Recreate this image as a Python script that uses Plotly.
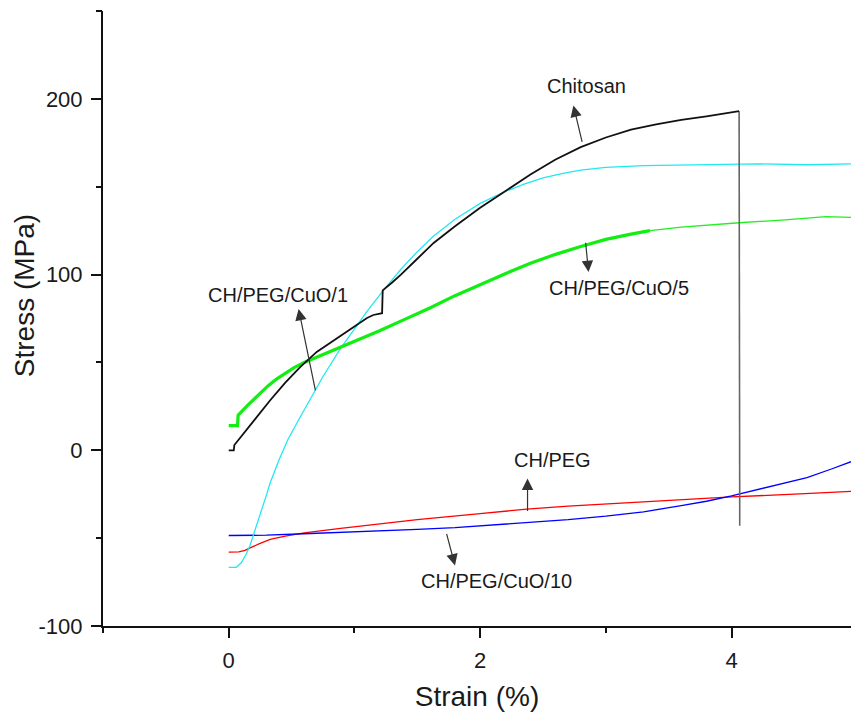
import plotly.graph_objects as go

# Tensile stress-strain curves of chitosan films
ch_strain = [0, 0.04, 0.045, 0.1, 0.2, 0.33, 0.45, 0.57, 0.7, 0.85, 1.0, 1.1, 1.15, 1.22, 1.225,
             1.3, 1.37, 1.5, 1.63, 1.8, 2.0, 2.19, 2.4, 2.6, 2.8, 3.0, 3.2, 3.4, 3.6, 3.8, 4.0,
             4.06, 4.065]
ch_stress = [0, 0, 3, 8, 17, 28.5, 38.5, 47.5, 56, 63.5, 70.5, 75.3, 77, 78, 91,
             95.5, 100, 109, 118, 127.5, 138, 147, 157, 165.5, 172.5, 178, 182.5, 185.5, 188,
             190, 192, 193, -43]

cuo1_strain = [0, 0.06, 0.1, 0.14, 0.17, 0.2, 0.25, 0.3, 0.33, 0.4, 0.47, 0.55, 0.65, 0.75,
               0.89, 1.0, 1.1, 1.23, 1.37, 1.5, 1.63, 1.8, 2.0, 2.19, 2.35, 2.5, 2.65, 2.8,
               3.0, 3.3, 3.7, 4.2, 4.6, 4.95]
cuo1_stress = [-66.6, -66.6, -64, -59, -54, -47, -36.5, -25.5, -18.5, -5.5, 6, 16.5, 29, 42,
               58, 69, 79, 91, 103, 113, 122, 131.5, 140.5, 147, 151.5, 155, 157.5, 159.5,
               161, 162, 162.5, 163, 162.5, 163]

cuo5_strain = [0, 0.07, 0.075, 0.1, 0.15, 0.2, 0.25, 0.31, 0.38, 0.45, 0.52, 0.6, 0.7, 0.8,
               1.0, 1.2, 1.4, 1.6, 1.8, 2.0, 2.2, 2.4, 2.6, 2.8, 3.0, 3.2, 3.35]
cuo5_stress = [14, 14, 20, 22, 25.5, 29, 32.5, 36.5, 40.5, 44, 47, 50, 53, 56,
               62, 68, 74.5, 81, 88, 94.5, 100.5, 106.5, 111.5, 116, 120, 123, 125]
cuo5_tail_strain = [3.35, 3.6, 4.06, 4.4, 4.75, 4.95]
cuo5_tail_stress = [125, 127, 129.5, 131, 133, 132.5]

peg_strain = [0, 0.08, 0.13, 0.17, 0.25, 0.33, 0.45, 0.6, 0.89, 1.2, 1.5, 2.0, 2.37, 2.7,
              3.2, 3.6, 4.0, 4.5, 4.95]
peg_stress = [-58, -57.8, -57, -55.5, -53, -50.7, -48.8, -47, -44.4, -41.8, -39.5, -36,
              -33.5, -31.8, -29.6, -28, -26.5, -25, -23.4]

cuo10_strain = [0, 0.3, 0.6, 0.9, 1.2, 1.5, 1.8, 2.1, 2.4, 2.7, 3.0, 3.3, 3.6, 3.8, 4.0,
                4.2, 4.4, 4.6, 4.8, 4.95]
cuo10_stress = [-48.5, -48.3, -47.5, -46.8, -46, -45, -44, -42.5, -41, -39.5, -37.5, -35,
                -31.5, -29, -26, -22.5, -19, -15.5, -10.5, -6.5]

x_range = [-1, 4.95]
y_range = [-100, 250]
x_ticks = [0, 2, 4]
y_ticks = [-100, 0, 100, 200]
y_tick_text = ["-100", "0", "100", "200"]
x_minor_step = 1
y_minor_step = 50

# Labels: (text, text x, text y, arrow head x, head y, arrow tail x, tail y)
labels = [
    ("Chitosan", 2.846, 207.6, 2.742, 196.2, 2.814, 174.7),
    ("CH/PEG/CuO/1", 0.390, 88.4, 0.556, 80.4, 0.692, 33.3),
    ("CH/PEG/CuO/5", 3.108, 92.3, 2.862, 101.4, 2.838, 119.0),
    ("CH/PEG", 2.576, -5.8, 2.377, -16.1, 2.377, -35.4),
    ("CH/PEG/CuO/10", 2.134, -74.5, 1.800, -65.5, 1.730, -46.7),
]

FONT = "Arial, Liberation Sans, sans-serif"
AXIS = "#111111"

fig = go.Figure()
fig.add_trace(go.Scatter(x=peg_strain, y=peg_stress, mode="lines",
                         line=dict(color="#ff0000", width=1.3), name="CH/PEG"))
fig.add_trace(go.Scatter(x=cuo10_strain, y=cuo10_stress, mode="lines",
                         line=dict(color="#0000ff", width=1.3), name="CH/PEG/CuO/10"))
fig.add_trace(go.Scatter(x=cuo1_strain, y=cuo1_stress, mode="lines",
                         line=dict(color="#22e8f0", width=1.3), name="CH/PEG/CuO/1"))
fig.add_trace(go.Scatter(x=cuo5_strain, y=cuo5_stress, mode="lines",
                         line=dict(color="#11ee11", width=3.2), name="CH/PEG/CuO/5"))
fig.add_trace(go.Scatter(x=cuo5_tail_strain, y=cuo5_tail_stress, mode="lines",
                         line=dict(color="#22ee22", width=1.3), showlegend=False))
# fracture drop of the chitosan film
fig.add_trace(go.Scatter(x=ch_strain[-2:], y=ch_stress[-2:], mode="lines",
                         line=dict(color="#666666", width=1.6), showlegend=False))
fig.add_trace(go.Scatter(x=ch_strain[:-1], y=ch_stress[:-1], mode="lines",
                         line=dict(color="#111111", width=1.8), name="Chitosan"))
# empty trace that carries the overlay axes used for the minor ticks
fig.add_trace(go.Scatter(x=[], y=[], xaxis="x2", yaxis="y2", showlegend=False,
                         hoverinfo="skip"))

for text, tx, ty, hx, hy, ax, ay in labels:
    fig.add_annotation(x=hx, y=hy, ax=ax, ay=ay, xref="x", yref="y", axref="x", ayref="y",
                       text="", showarrow=True, arrowhead=2, arrowsize=1.9, arrowwidth=1.2,
                       arrowcolor="#333333")
    fig.add_annotation(x=tx, y=ty, xref="x", yref="y", text=text, showarrow=False,
                       font=dict(family=FONT, size=20, color="#1a1a1a"))

fig.add_annotation(x=-0.105, y=0.537, xref="paper", yref="paper", text="Stress (MPa)",
                   textangle=-90, showarrow=False, xanchor="center", yanchor="middle",
                   font=dict(family=FONT, size=28, color="#1a1a1a"))

fig.update_layout(
    width=851, height=717,
    margin=dict(l=103, r=0, t=11, b=91),
    paper_bgcolor="white", plot_bgcolor="white",
    showlegend=False,
    font=dict(family=FONT, color="#1a1a1a"),
    xaxis=dict(
        range=x_range, tickmode="array", tickvals=x_ticks, ticks="outside", ticklen=10,
        tickwidth=2, tickcolor=AXIS, showline=True, linecolor=AXIS, linewidth=2,
        showgrid=False, zeroline=False, tickfont=dict(size=22), ticklabelstandoff=4,
        title=dict(text="Strain (%)", font=dict(size=28), standoff=14),
    ),
    yaxis=dict(
        range=y_range, tickmode="array", tickvals=y_ticks, ticktext=y_tick_text,
        ticks="outside", ticklen=10, tickwidth=2, tickcolor=AXIS, showline=True,
        linecolor=AXIS, linewidth=2, showgrid=False, zeroline=False,
        tickfont=dict(size=22), ticklabelstandoff=4,
    ),
    # short intermediate ticks
    xaxis2=dict(
        range=x_range, overlaying="x", anchor="y2", side="bottom", tickmode="linear",
        tick0=-1, dtick=x_minor_step, ticks="outside", ticklen=6, tickwidth=2,
        tickcolor=AXIS, showticklabels=False, showline=False, showgrid=False,
        zeroline=False,
    ),
    yaxis2=dict(
        range=y_range, overlaying="y", anchor="x2", side="left", tickmode="linear",
        tick0=-100, dtick=y_minor_step, ticks="outside", ticklen=6, tickwidth=2,
        tickcolor=AXIS, showticklabels=False, showline=False, showgrid=False,
        zeroline=False,
    ),
)

fig.write_html("out.html")
